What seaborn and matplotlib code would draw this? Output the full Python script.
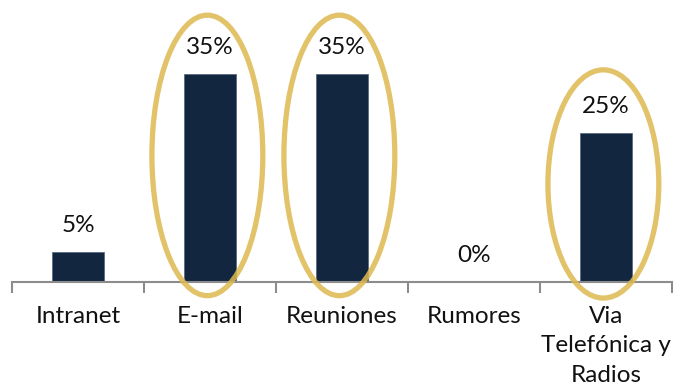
import matplotlib
matplotlib.use("Agg")
import matplotlib.pyplot as plt
from matplotlib.patches import Ellipse
import numpy as np
import pandas as pd
import seaborn as sns

categories = ["Intranet", "E-mail", "Reuniones", "Rumores", "Via\nTelefónica y\nRadios"]
values = [5, 35, 35, 0, 25]
labels = ["5%", "35%", "35%", "0%", "25%"]
highlighted = [1, 2, 4]

sns.set_theme(style="white")
plt.rcParams["font.family"] = ["Lato", "DejaVu Sans"]

fig = plt.figure(figsize=(6.75, 3.91), dpi=100)
ax = fig.add_axes([12 / 675, 109 / 391, 660 / 675, 272 / 391])

df = pd.DataFrame({"cat": categories, "val": values})
sns.barplot(data=df, x="cat", y="val", color="#12263F", width=0.4,
            saturation=1, ax=ax, edgecolor="#5a6a80", linewidth=0.6)

ax.set_xlim(-0.5, len(categories) - 0.5)
ax.set_ylim(0, 45.77)
ax.set_xlabel("")
ax.set_ylabel("")
ax.set_yticks([])

for s in ["top", "right", "left"]:
    ax.spines[s].set_visible(False)
ax.spines["bottom"].set_color("#8c8c8c")
ax.spines["bottom"].set_linewidth(1.5)

ax.set_xticks(range(len(categories)))
ax.set_xticklabels(categories, fontsize=17.5, color="#111111", linespacing=1.5)
ax.set_xticks(np.arange(-0.5, len(categories), 1.0), minor=True)
ax.tick_params(axis="x", which="major", length=0, pad=17)
ax.tick_params(axis="x", which="minor", length=8, width=1.5, color="#8c8c8c",
               direction="out", bottom=True)

for i, (v, lab) in enumerate(zip(values, labels)):
    ax.text(i, v + 4.5, lab, ha="center", va="center", fontsize=17.5, color="#111111")

# gold rings around the leading channels
for i in highlighted:
    v = values[i]
    top = v + 9.9 if v > 30 else v + 10.7
    bottom = -2.3 if v > 30 else -2.7
    e = Ellipse((i - 0.02, (top + bottom) / 2), width=0.84, height=top - bottom,
                fill=False, edgecolor="#DDB94F", linewidth=3.8, alpha=0.85,
                clip_on=False, zorder=5)
    ax.add_patch(e)

fig.savefig("out.png", dpi=100)
